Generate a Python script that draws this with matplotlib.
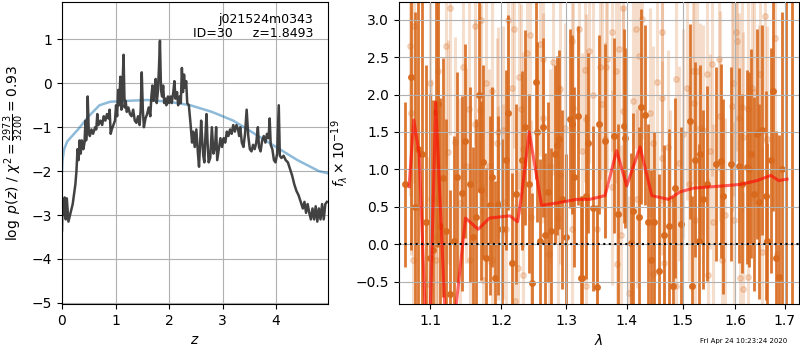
import numpy as np
import matplotlib
matplotlib.use('Agg')
import matplotlib.pyplot as plt
from matplotlib.ticker import NullLocator, NullFormatter

# --- p(z) (painel esquerdo) ---
z_grid = [0.0, 0.01, 0.03, 0.05, 0.07, 0.09, 0.12, 0.15, 0.2, 0.25, 0.27, 0.29, 0.31, 0.33,
          0.35, 0.37, 0.40, 0.42, 0.44, 0.45, 0.47, 0.48, 0.50, 0.52, 0.55, 0.58, 0.62, 0.64,
          0.66, 0.68, 0.72, 0.75, 0.78, 0.81, 0.84, 0.87, 0.89, 0.91, 0.93, 0.96, 0.99, 1.01,
          1.03, 1.05, 1.07, 1.09, 1.11, 1.13, 1.15, 1.17, 1.19, 1.21, 1.24, 1.27, 1.30, 1.33,
          1.36, 1.39, 1.42, 1.45, 1.47, 1.49, 1.51, 1.53, 1.56, 1.59, 1.62, 1.65, 1.67, 1.69,
          1.71, 1.73, 1.75, 1.77, 1.79, 1.81, 1.83, 1.85, 1.87, 1.89, 1.91, 1.93, 1.95, 1.98,
          2.00, 2.03, 2.05, 2.08, 2.10, 2.12, 2.15, 2.17, 2.20, 2.22, 2.24, 2.26, 2.28, 2.30,
          2.32, 2.34, 2.37, 2.40, 2.43, 2.45, 2.48, 2.51, 2.54, 2.56, 2.58, 2.60, 2.62, 2.64,
          2.66, 2.68, 2.70, 2.72, 2.74, 2.77, 2.80, 2.83, 2.86, 2.88, 2.90, 2.93, 2.96, 2.99,
          3.02, 3.05, 3.08, 3.11, 3.14, 3.17, 3.20, 3.23, 3.26, 3.29, 3.31, 3.33, 3.36, 3.39,
          3.42, 3.45, 3.48, 3.51, 3.54, 3.57, 3.60, 3.63, 3.66, 3.68, 3.71, 3.74, 3.77, 3.80,
          3.83, 3.86, 3.88, 3.90, 3.93, 3.96, 3.99, 4.02, 4.05, 4.07, 4.10, 4.14, 4.18, 4.22,
          4.26, 4.30, 4.34, 4.38, 4.42, 4.46, 4.50, 4.53, 4.56, 4.59, 4.62, 4.65, 4.68, 4.71,
          4.74, 4.77, 4.80, 4.83, 4.86, 4.89, 4.92, 4.95]
log_pz = [-3.35, -2.65, -3.0, -2.6, -3.1, -2.62, -3.15, -3.0, -2.75, -2.3, -2.0, -1.5, -1.75, -1.3,
          -1.6, -1.3, -1.5, -1.35, -0.85, -1.3, -1.0, -0.3, -1.1, -1.2, -1.05, -1.15, -1.0, -1.05,
          -0.7, -0.95, -0.85, -0.95, -0.75, -0.85, -0.7, -0.8, -0.6, -1.15, -1.05, -0.95, -0.85, -0.5,
          -0.75, -0.15, -0.5, 0.15, -0.6, -0.1, 0.65, -0.55, -0.4, -0.65, -0.55, -0.7, -0.75, -0.6,
          -0.85, -0.9, -0.75, -0.95, -0.6, 0.25, -0.6, -1.0, -0.8, -0.7, -0.55, -0.75, -0.3, -0.05,
          -0.4, -0.2, 0.1, -0.45, -0.2, 0.3, 0.97, -0.15, -0.3, -0.05, -0.45, -0.35, -0.5, -0.3,
          -0.45, -0.3, -0.45, -0.2, 0.05, -0.35, -0.2, -0.5, -0.3, -0.45, 0.35, -0.2, 0.2, -0.1,
          0.05, -0.45, -0.5, -0.9, -1.35, -1.1, -1.45, -1.05, -1.6, -1.9, -1.4, -0.85, -1.3, -1.65,
          -1.8, -1.2, -0.7, -1.35, -1.8, -1.7, -1.0, -1.6, -1.45, -1.0, -1.75, -1.5, -1.25, -1.45,
          -1.25, -1.35, -1.1, -1.2, -1.05, -1.15, -0.95, -1.1, -0.95, -1.05, -1.2, -1.0, -1.35, -1.45,
          -1.15, -0.6, -1.2, -1.5, -1.55, -1.4, -1.5, -1.35, -1.0, -1.45, -1.55, -1.3, -1.2, -1.35,
          -1.15, -1.25, -0.8, -1.4, -1.5, -1.75, -1.8, -1.6, -0.5, -1.65, -1.7, -1.65, -1.75, -1.8,
          -1.95, -2.1, -2.3, -2.45, -2.55, -2.7, -2.85, -2.7, -2.95, -2.75, -2.95, -3.1, -2.85, -3.1,
          -2.8, -3.15, -2.85, -3.1, -2.75, -3.1, -2.75, -2.7]

z_prior = [0.0, 0.01, 0.04, 0.1, 0.3, 0.5, 0.7, 0.9, 1.2, 1.6, 2.0, 2.4, 2.8, 3.2, 3.6, 4.0, 4.4, 4.8, 4.97]
log_prior = [-2.0, -1.75, -1.5, -1.32, -1.05, -0.75, -0.5, -0.42, -0.4, -0.38, -0.42, -0.5, -0.65,
             -0.85, -1.15, -1.45, -1.75, -2.0, -2.05]

# --- espectro 1D (painel direito) ---
lam_a = [1.066, 1.0735, 1.079, 1.084, 1.0884, 1.094, 1.0996, 1.103, 1.107, 1.110,
         1.1134, 1.1167, 1.121, 1.1264, 1.132, 1.137, 1.143, 1.1474, 1.1545, 1.1588,
         1.163, 1.167, 1.170, 1.174, 1.1777, 1.1834, 1.1863, 1.1906, 1.195, 1.2005,
         1.2067, 1.2096, 1.2156, 1.2216, 1.2306, 1.2351, 1.2413, 1.2459, 1.2520, 1.2535,
         1.2581, 1.2627, 1.2659, 1.2705, 1.2753, 1.2814, 1.2845, 1.2876, 1.293, 1.2988,
         1.3051, 1.3083, 1.313, 1.3181, 1.3230, 1.3260, 1.3311, 1.3342, 1.3425, 1.3491,
         1.3527, 1.3625, 1.3791, 1.3851, 1.3953, 1.3974, 1.4078, 1.4111, 1.4216, 1.4251,
         1.432, 1.4373, 1.4426, 1.4479, 1.4570, 1.4657, 1.4748, 1.4820, 1.4854, 1.4966,
         1.5132, 1.5166, 1.522, 1.5297, 1.5315, 1.538, 1.5447, 1.5617, 1.5714, 1.5752,
         1.5910, 1.6064, 1.6121, 1.6228, 1.6266, 1.6305, 1.6364, 1.6426, 1.6462, 1.6525,
         1.6608, 1.6628, 1.6708, 1.6746, 1.6812, 1.6876, 1.6935, 1.702, 1.7146]
flux_a = [0.8, 2.23, 0.5, 1.27, 1.2, 0.3, -0.19, -0.07, 1.77, 1.87,
          0.25, 0.89, 0.18, -0.67, 0.04, 0.9, 0.68, 1.38, 0.8, 0.1,
          0.37, 2.0, 0.72, 1.1, -0.18, 0.52, 0.9, -0.45, 0.52, 0.2,
          1.13, 1.76, -0.25, 0.67, 1.12, 1.56, 0.81, -0.52, 2.17, 1.5,
          0.04, 1.56, 0.12, 0.7, 0.18, 1.2, 1.32, 1.4, 0.6, 0.1,
          1.68, 1.6, 0.9, 1.72, -0.45, -0.45, 0.64, 1.35, 0.48, -0.57,
          1.6, 1.38, 1.45, 0.4, 1.58, 1.42, 0.02, 0.45, 0.37, 1.84,
          1.73, 0.3, -0.21, 0.3, -0.36, 0.13, 0.24, -0.56, 0.75, 0.27,
          1.64, -0.56, 1.13, 0.04, 1.2, 0.6, 0.81, 1.07, 1.11, 0.64,
          1.07, 1.05, 0.81, 1.03, 1.0, 1.21, 0.67, 1.47, 0.57, 1.53,
          0.65, 0.05, 1.12, 2.05, -0.19, -0.44, 1.0, -1.3, -1.3]
err_a = [1.1, 2.3, 2.6, 2.4, 2.3, 2.1, 2.2, 2.0, 1.8, 1.9,
         1.7, 1.6, 1.5, 1.4, 1.4, 1.4, 1.3, 1.3, 1.3, 1.2,
         1.3, 1.3, 1.2, 1.3, 1.2, 1.2, 1.2, 1.3, 1.2, 1.2,
         1.2, 1.3, 1.2, 1.2, 1.2, 1.3, 1.2, 1.2, 1.3, 1.2,
         1.1, 1.2, 1.1, 1.2, 1.1, 1.2, 1.2, 1.2, 1.2, 1.1,
         1.2, 1.2, 1.2, 1.2, 1.1, 1.1, 1.1, 1.2, 1.1, 1.1,
         1.2, 1.3, 1.3, 1.2, 1.3, 1.2, 1.2, 1.3, 1.2, 1.3,
         1.2, 1.3, 1.2, 1.2, 1.3, 1.2, 1.3, 1.2, 1.2, 1.3,
         1.3, 1.2, 1.3, 1.3, 1.2, 1.2, 1.3, 1.3, 1.3, 1.3,
         1.3, 1.3, 1.2, 1.3, 1.3, 1.4, 1.3, 1.4, 1.3, 1.4,
         1.4, 1.3, 1.5, 1.6, 1.7, 1.9, 2.1, 5.0, 5.0]

lam_b = [1.0724, 1.0737, 1.0763, 1.0777, 1.0985, 1.0991, 1.1004, 1.1071, 1.1078, 1.1098,
         1.1105, 1.1209, 1.1237, 1.1264, 1.1333, 1.1403, 1.1445, 1.1488, 1.1530, 1.1544,
         1.1615, 1.1622, 1.1687, 1.1702, 1.1731, 1.1774, 1.1818, 1.1861, 1.1868, 1.1934,
         1.1949, 1.1956, 1.2022, 1.2030, 1.2067, 1.2096, 1.2156, 1.2186, 1.2201, 1.2246,
         1.2261, 1.2291, 1.2321, 1.2328, 1.2382, 1.2428, 1.2443, 1.2581, 1.2628, 1.2636,
         1.2721, 1.2737, 1.2784, 1.2862, 1.2894, 1.2900, 1.2973, 1.3086, 1.3093, 1.3102,
         1.3199, 1.3248, 1.3297, 1.3313, 1.3320, 1.3362, 1.3427, 1.3493, 1.3543, 1.3577,
         1.3627, 1.3644, 1.3661, 1.3745, 1.3752, 1.3813, 1.3830, 1.3863, 1.3897, 1.3932,
         1.3940, 1.4035, 1.4104, 1.4156, 1.4173, 1.4208, 1.4260, 1.4401, 1.4454, 1.4461,
         1.4525, 1.4614, 1.4621, 1.4628, 1.4650, 1.4723, 1.4759, 1.4869, 1.4876, 1.4924,
         1.4997, 1.5071, 1.5108, 1.5183, 1.5201, 1.5220, 1.5257, 1.5313, 1.5369, 1.5446,
         1.5465, 1.5503, 1.5541, 1.5560, 1.5675, 1.5694, 1.5733, 1.5791, 1.5927, 1.5947,
         1.5967, 1.6006, 1.6026, 1.6065, 1.6085, 1.6125, 1.6145, 1.6150, 1.6244, 1.6250,
         1.6324, 1.6364, 1.6465, 1.6485, 1.6525, 1.6586, 1.6627, 1.6791, 1.6833]
flux_b = [2.65, 1.76, -0.21, 2.92, -0.53, 2.15, 0.61, 0.1, -0.21, 2.32,
          0.61, 2.65, 1.23, 3.16, 1.37, 0.55, 2.37, 1.05, 1.81, -0.21,
          2.92, 1.61, 1.8, 3.0, -0.48, 2.15, 1.04, 2.05, -0.21, 1.35,
          1.5, 0.55, 1.52, 0.57, 0.2, 3.0, 2.09, 2.88, -0.76, -0.32,
          2.24, 1.81, 1.27, -0.41, 2.55, 2.8, 0.36, 2.68, 2.48, 1.69,
          -0.13, 1.04, 2.43, 0.35, 2.08, 0.93, 1.55, 2.72, 0.2, 1.82,
          2.88, 1.25, 2.33, 1.67, -0.56, 2.58, 2.0, 0.2, 2.37, 1.87,
          1.4, 2.37, 2.47, 2.84, 0.76, 2.32, -0.27, 2.61, 0.13, 3.16,
          1.78, -0.65, 1.92, 2.88, 0.61, 2.51, 3.01, 1.76, 1.35, -0.4,
          2.17, 2.84, 1.95, 1.15, -0.25, 1.3, 0.6, 2.21, -0.56, 1.08,
          1.47, 2.09, 0.81, 2.31, 1.89, 0.33, 2.31, 1.55, 1.53, 2.28,
          -0.41, 1.24, 2.41, 0.3, 2.48, 1.71, -0.21, 0.39, 1.85, 2.15,
          0.33, 2.84, 2.71, 1.69, -0.45, 1.83, 1.43, -0.6, 1.81, -0.44,
          2.09, 2.04, 1.53, 2.28, -0.1, 3.05, 1.41, 2.75, -0.13]
err_b = [2.0, 1.9, 1.8, 2.1, 1.7, 1.8, 1.6, 1.6, 1.5, 1.7,
         1.5, 1.6, 1.5, 1.7, 1.4, 1.4, 1.5, 1.3, 1.5, 1.3,
         1.6, 1.4, 1.4, 1.6, 1.3, 1.5, 1.3, 1.5, 1.3, 1.4,
         1.4, 1.3, 1.4, 1.3, 1.3, 1.6, 1.5, 1.6, 1.3, 1.3,
         1.5, 1.4, 1.3, 1.3, 1.5, 1.6, 1.3, 1.5, 1.5, 1.4,
         1.2, 1.3, 1.5, 1.3, 1.5, 1.2, 1.4, 1.5, 1.2, 1.4,
         1.6, 1.3, 1.5, 1.4, 1.2, 1.5, 1.4, 1.3, 1.5, 1.4,
         1.3, 1.5, 1.5, 1.6, 1.3, 1.5, 1.3, 1.5, 1.2, 1.6,
         1.4, 1.3, 1.4, 1.6, 1.2, 1.5, 1.6, 1.4, 1.3, 1.3,
         1.5, 1.6, 1.4, 1.3, 1.3, 1.3, 1.2, 1.5, 1.3, 1.3,
         1.4, 1.5, 1.3, 1.5, 1.4, 1.3, 1.5, 1.4, 1.4, 1.5,
         1.3, 1.3, 1.5, 1.3, 1.5, 1.4, 1.3, 1.3, 1.4, 1.5,
         1.3, 1.6, 1.6, 1.4, 1.3, 1.4, 1.4, 1.3, 1.5, 1.3,
         1.5, 1.5, 1.4, 1.6, 1.4, 1.7, 1.5, 1.8, 1.6]

lam_model = [1.0716, 1.0778, 1.0850, 1.0926, 1.1000, 1.1072, 1.1195, 1.1260, 1.1333, 1.1485,
             1.1665, 1.1829, 1.2128, 1.2244, 1.2303, 1.2420, 1.2609, 1.2842, 1.3163, 1.3380,
             1.3632, 1.3828, 1.4000, 1.4232, 1.4438, 1.4738, 1.4950, 1.5199, 1.5769, 1.6096,
             1.6429, 1.6713, 1.6873, 1.7049]
flux_model = [0.77, 1.66, 1.2, -0.8, -0.9, 1.9, -0.8, -1.2, -1.0, 0.35,
              0.2, 0.35, 0.38, 0.3, 0.65, 1.5, 0.52, 0.55, 0.6, 0.6,
              0.65, 1.25, 0.78, 1.3, 0.65, 0.6, 0.7, 0.75, 0.78, 0.8,
              0.85, 0.92, 0.85, 0.87]

lam_ticks = [1.1, 1.2, 1.3, 1.4, 1.5, 1.6, 1.7]

orange = '#d8691c'

fig = plt.figure(figsize=(8, 3.5), dpi=100)
ax1 = fig.add_axes([0.0775, 0.131, 0.3325, 0.863])
ax2 = fig.add_axes([0.49875, 0.131, 0.5, 0.863])

# --- p(z) ---
ax1.plot(z_prior, log_prior, color='tab:blue', alpha=0.5, linewidth=1.8)
ax1.plot(z_grid, log_pz, color='0.22', alpha=0.95, linewidth=1.8)
ax1.set_xlim(0, 4.97)
ax1.set_ylim(-5.03, 1.85)
ax1.set_xticks([0, 1, 2, 3, 4])
ax1.set_yticks([-5, -4, -3, -2, -1, 0, 1])
ax1.set_xlabel('$z$')
ax1.set_ylabel(r'$\log\ p(z)$ / $\chi^2=\frac{2973}{3200}=0.93$')
ax1.grid(True)
ax1.text(0.945, 0.965, 'j021524m0343\nID=30     z=1.8493', transform=ax1.transAxes,
         ha='right', va='top', fontsize=9, linespacing=1.1)

# --- espectro ---
ax2.errorbar(lam_b, flux_b, yerr=err_b, marker='o', ms=4, linestyle='none',
             color=orange, elinewidth=2.2, alpha=0.22)
ax2.errorbar(lam_a, flux_a, yerr=err_a, marker='o', ms=4, linestyle='none',
             color=orange, elinewidth=2.0, alpha=0.9)
ax2.plot(lam_model, flux_model, color='r', linewidth=2.2, alpha=0.6, zorder=4)
ax2.axhline(0, color='k', linestyle=':', linewidth=1.5, zorder=5)
ax2.set_xscale('log')
ax2.set_xlim(1.0584, 1.730)
ax2.set_ylim(-0.8, 3.235)
ax2.set_xticks(lam_ticks)
ax2.set_xticklabels([f'{t:.1f}' for t in lam_ticks])
ax2.xaxis.set_minor_locator(NullLocator())
ax2.xaxis.set_minor_formatter(NullFormatter())
ax2.set_yticks([-0.5, 0.0, 0.5, 1.0, 1.5, 2.0, 2.5, 3.0])
ax2.set_xlabel(r'$\lambda$')
ax2.set_ylabel(r'$f_\lambda\times10^{-19}$')
ax2.set_axisbelow(False)
ax2.grid(True)

fig.text(0.984, 0.018, 'Fri Apr 24 10:23:24 2020', ha='right', va='bottom', fontsize=5)

fig.savefig('out.png', dpi=100)
